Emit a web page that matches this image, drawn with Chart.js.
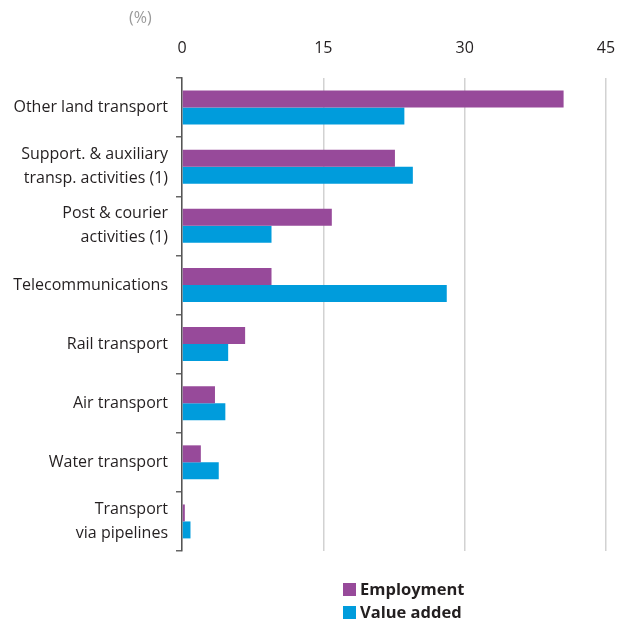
<!DOCTYPE html>
<html>
<head>
<meta charset="utf-8">
<script src="https://cdn.jsdelivr.net/npm/chart.js@4"></script>
<style>
  html, body { margin: 0; padding: 0; background: #fff; }
  #wrap { position: relative; width: 620px; height: 620px; font-family: "Open Sans", sans-serif; }
  #unit { position: absolute; left: 129px; top: 6px; font-size: 16px; color: #9a9a9a; }
  #legend { position: absolute; left: 343px; top: 577px; font-size: 16.5px; font-weight: bold; color: #231f20; }
  #legend div { height: 23px; line-height: 23px; }
  #legend span { display: inline-block; width: 13px; height: 13px; margin-right: 4px; vertical-align: -1px; }
</style>
</head>
<body>
<div id="wrap">
  <canvas id="chart" width="620" height="620"></canvas>
  <div id="unit">(%)</div>
  <div id="legend"></div>
</div>
<script>
// ========================== DATA ==========================
const categories = [
  "Other land transport",
  ["Support. & auxiliary", "transp. activities (1)"],
  ["Post & courier", "activities (1)"],
  "Telecommunications",
  "Rail transport",
  "Air transport",
  "Water transport",
  ["Transport", "via pipelines"]
];
const employment = [40.5, 22.6, 15.9, 9.5, 6.7, 3.5, 2.0, 0.3];
const valueAdded = [23.6, 24.5, 9.5, 28.1, 4.9, 4.6, 3.9, 0.9];
const seriesNames = ["Employment", "Value added"];
const xTicks = [0, 15, 30, 45];

const colors = ["#974a9a", "#009cdc"];

// ========================== CHART ==========================
const chart = new Chart(document.getElementById("chart"), {
  type: "bar",
  data: {
    labels: categories,
    datasets: [
      { label: seriesNames[0], data: employment, backgroundColor: colors[0] },
      { label: seriesNames[1], data: valueAdded, backgroundColor: colors[1] }
    ]
  },
  options: {
    indexAxis: "y",
    responsive: false,
    animation: false,
    categoryPercentage: 0.574,
    barPercentage: 1.0,
    layout: { padding: { top: 0, right: 0, bottom: 69, left: 0 } },
    plugins: { legend: { display: false }, tooltip: { enabled: false } },
    scales: {
      x: {
        position: "top",
        min: 0,
        max: 45,
        afterBuildTicks: s => { s.ticks = xTicks.map(v => ({ value: v })); },
        afterFit: s => { s.height = 78; s.paddingRight = 14; },
        grid: { color: "#d2d2d2", lineWidth: 1.5, drawTicks: false },
        border: { display: false },
        ticks: { color: "#231f20", padding: 20, font: { family: "Open Sans", size: 16 } }
      },
      y: {
        afterFit: s => { s.width = 182; },
        grid: { drawOnChartArea: false, drawTicks: true, tickLength: 6, color: "#666", lineWidth: 1.5, offset: true },
        border: { color: "#555", width: 1.5 },
        ticks: { color: "#231f20", padding: 8, font: { family: "Open Sans", size: 16, lineHeight: 1.5 } }
      }
    }
  }
});

// ========================== LEGEND ==========================
const legend = document.getElementById("legend");
chart.data.datasets.forEach(d => {
  legend.innerHTML += `<div><span style="background:${d.backgroundColor}"></span>${d.label}</div>`;
});
</script>
</body>
</html>
